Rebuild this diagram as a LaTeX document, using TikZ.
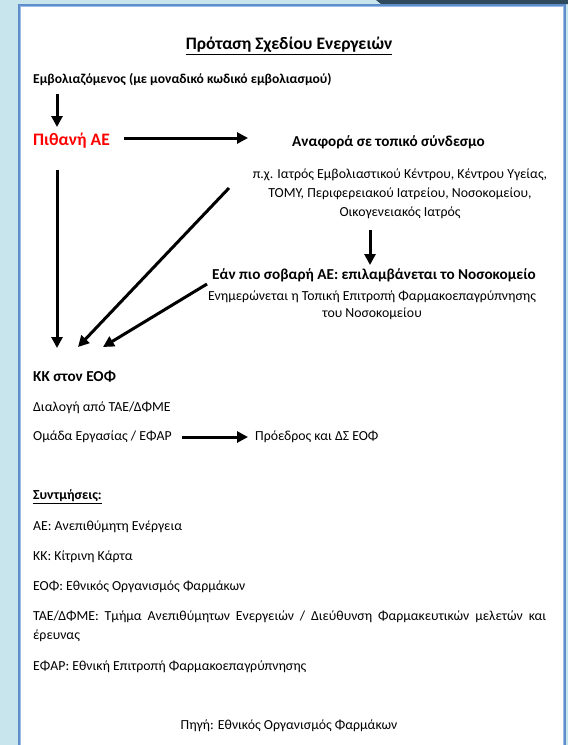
\documentclass[tikz,border=0pt]{standalone}
\usepackage{fontspec}
\setmainfont{Carlito}
\usetikzlibrary{arrows.meta}
\definecolor{bgblue}{HTML}{C8E5EE}
\definecolor{darkband}{HTML}{2E4A5C}
\definecolor{frameblue}{HTML}{5F8DCB}
\definecolor{framelight}{HTML}{9DBDE6}
\definecolor{aered}{HTML}{FF0000}
\newcommand{\regsize}{\fontsize{13.8}{19}\selectfont}
\newcommand{\bigbsize}{\fontsize{15.2}{19}\selectfont\bfseries}
\begin{document}
\begin{tikzpicture}[x=1pt,y=-1pt,
  txt/.style={inner sep=0pt, font=\regsize, anchor=west},
  btxt/.style={inner sep=0pt, font=\regsize\bfseries, anchor=west},
  ctr/.style={inner sep=0pt, font=\regsize, align=center},
  arr/.style={line width=3pt, -{Triangle[length=11pt,width=11pt]}}]
\useasboundingbox (0,0) rectangle (568,745);
\fill[bgblue] (0,0) rectangle (568,745);
\fill[darkband] (376,0) -- (568,0) -- (568,4) -- (381,4) -- cycle;
\fill[white] (19,5) rectangle (565,745);
\draw[frameblue, line width=2pt] (19,745) -- (19,5) -- (565,5) -- (565,745);
\draw[framelight, line width=0.8pt] (20.6,745) -- (20.6,6.6) -- (563.4,6.6) -- (563.4,745);
% texts
\node[inner sep=0pt, font=\fontsize{17.5}{21}\selectfont\bfseries] (title) at (289,46) {\underline{Πρόταση Σχεδίου Ενεργειών}};
\node[btxt, font=\fontsize{13.6}{19}\selectfont\bfseries] (emb) at (33,80) {Εμβολιαζόμενος (με μοναδικό κωδικό εμβολιασμού)};
\node[btxt, font=\fontsize{17.5}{22}\selectfont\bfseries, text=aered] (pae) at (33,141) {Πιθανή ΑΕ};
\node[btxt, font=\bigbsize] (anaf) at (292,142) {Αναφορά σε τοπικό σύνδεσμο};
\node[ctr] (pch) at (400,194) {π.χ. Ιατρός Εμβολιαστικού Κέντρου, Κέντρου Υγείας,\\ΤΟΜΥ, Περιφερειακού Ιατρείου, Νοσοκομείου,\\Οικογενειακός Ιατρός};
\node[ctr, font=\bigbsize] (eanpio) at (374,275) {Εάν πιο σοβαρή ΑΕ: επιλαμβάνεται το Νοσοκομείο};
\node[ctr, font=\fontsize{13.8}{17}\selectfont] (enim) at (372,305.5) {Ενημερώνεται η Τοπική Επιτροπή Φαρμακοεπαγρύπνησης\\του Νοσοκομείου};
\node[btxt, font=\bigbsize] (kk) at (33,377) {ΚΚ στον ΕΟΦ};
\node[txt] (dial) at (33,408) {Διαλογή από ΤΑΕ/ΔΦΜΕ};
\node[txt] (omada) at (33,437) {Ομάδα Εργασίας / ΕΦΑΡ};
\node[txt] (proedros) at (255,437) {Πρόεδρος και ΔΣ ΕΟΦ};
\node[btxt] (synt) at (33,497) {\underline{Συντμήσεις:}};
\node[txt] (ab1) at (33,527) {ΑΕ: Ανεπιθύμητη Ενέργεια};
\node[txt] (ab2) at (33,557) {ΚΚ: Κίτρινη Κάρτα};
\node[txt] (ab3) at (33,587) {ΕΟΦ: Εθνικός Οργανισμός Φαρμάκων};
\node[inner sep=0pt, font=\regsize, text width=513pt, align=justify, anchor=west] (ab4) at (33,626.5) {ΤΑΕ/ΔΦΜΕ: Τμήμα Ανεπιθύμητων Ενεργειών / Διεύθυνση Φαρμακευτικών μελετών και\linebreak έρευνας};
\node[txt] (ab5) at (33,667) {ΕΦΑΡ: Εθνική Επιτροπή Φαρμακοεπαγρύπνησης};
\node[inner sep=0pt, font=\regsize] (pigi) at (289,726) {Πηγή: Εθνικός Οργανισμός Φαρμάκων};
% connector end points
\coordinate (a1s) at (57,94);
\coordinate (a1e) at (57,127);
\coordinate (a2s) at (124,138);
\coordinate (a2e) at (248,138);
\coordinate (a3s) at (370,230);
\coordinate (a3e) at (370,265);
\coordinate (v1s) at (57,170);
\coordinate (v1e) at (57,348);
\coordinate (d1s) at (229,188);
\coordinate (d1e) at (78,347);
\coordinate (d2s) at (207,284);
\coordinate (d2e) at (103,347);
\coordinate (a4s) at (182,437);
\coordinate (a4e) at (248,437);
\draw[arr] (a1s) -- (a1e);
\draw[arr] (a2s) -- (a2e);
\draw[arr] (a3s) -- (a3e);
\draw[arr] (v1s) -- (v1e);
\draw[arr] (d1s) -- (d1e);
\draw[arr] (d2s) -- (d2e);
\draw[arr] (a4s) -- (a4e);
\end{tikzpicture}
\end{document}
